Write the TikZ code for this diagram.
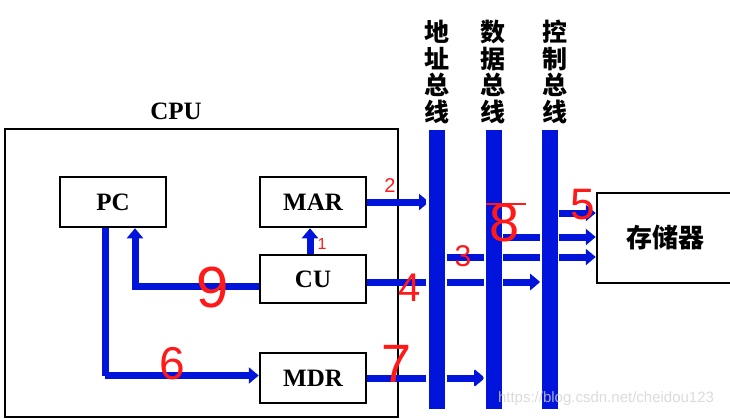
\documentclass[tikz,border=0pt]{standalone}
\usepackage{fontspec}
\setmainfont{Liberation Serif}
\newfontfamily\cjk{Noto Sans CJK SC}
\newfontfamily\hand{Liberation Sans}
\usetikzlibrary{arrows.meta,calc}
\definecolor{busblue}{RGB}{0,20,220}
\definecolor{hred}{RGB}{255,25,25}
\begin{document}
\begin{tikzpicture}[x=1pt,y=-1pt,
  reg/.style={draw,line width=2.5pt,minimum width=106pt,minimum height=50pt,inner sep=0pt,
    font=\fontsize{25}{30}\selectfont\bfseries},
  bus/.style={fill=busblue,draw=white,line width=3pt,minimum width=19pt,minimum height=282pt,inner sep=0pt,outer sep=0pt},
  arr/.style={busblue,line width=7pt,-{Triangle[length=10pt,width=16pt]}},
  ln/.style={busblue,line width=7pt},
  num/.style={text=hred,inner sep=0pt},
  buslabel/.style={align=center,font=\cjk\bfseries\fontsize{25}{26.5}\selectfont,inner sep=0pt}]
\useasboundingbox (0,0) rectangle (730,418);

% CPU frame
\node[draw,line width=2.5pt,minimum width=393pt,minimum height=288pt,inner sep=0pt] (cpu) at (201.5,273) {};
\node[font=\fontsize{25}{30}\selectfont\bfseries] (cpulabel) at (176,111) {CPU};

% registers
\node[reg] (pc)  at (113,202) {PC};
\node[reg] (mar) at (313,202) {MAR};
\node[reg,minimum height=48pt] (cu)  at (313,279) {CU};
\node[reg] (mdr) at (313,378) {MDR};

% memory
\node[draw,line width=2.5pt,minimum width=136pt,minimum height=90pt,inner sep=0pt,
  font=\cjk\bfseries\fontsize{26}{30}\selectfont] (mem) at (665,238) {存储器};

% bus labels
\node[buslabel] (alab) at (437,72) {地\\址\\总\\线};
\node[buslabel] (dlab) at (493,72) {数\\据\\总\\线};
\node[buslabel] (clab) at (555,72) {控\\制\\总\\线};

% connectors (drawn before buses)
\coordinate (b) at (0,257);
\coordinate (c) at (0,237);
\coordinate (d) at (0,213);
\draw[arr] ([xshift=-3pt]cu.north) -- ([xshift=-3pt]mar.south);
\draw[arr] (mar.east) -- (mar.east -| 429,0);
\draw[arr] ([yshift=-3pt]cu.east) -- ([yshift=-3pt]cu.east -| 540,0);
\draw[arr] (mdr.east) -- (mdr.east -| 485,0);
\draw[arr] ([yshift=-7pt]cu.west) -| ([xshift=22pt]pc.south);
\draw[ln] ([xshift=-8pt]pc.south) -- ([xshift=-8pt]pc.south |- 0,375.5);
\draw[arr] ([xshift=-8pt,yshift=0pt]pc.south |- 0,375.5) -- (mdr.west |- 0,375.5);

% buses
\node[bus] (abus) at (437,269.5) {};
\node[bus] (dbus) at (493.5,269.5) {};
\node[bus] (cbus) at (549.5,269.5) {};

% bus to memory
\draw[ln] (abus.east |- b) -- (dbus.west |- b);
\draw[ln] (dbus.east |- b) -- (cbus.west |- b);
\draw[arr] (cbus.east |- b) -- (mem.west |- b);
\draw[ln] (dbus.east |- c) -- (cbus.west |- c);
\draw[arr] (cbus.east |- c) -- (mem.west |- c);
\draw[arr] (cbus.east |- d) -- (mem.west |- d);
% CU and MDR line segments right of the address bus
\draw[ln] (abus.east |- 0,282) -- (dbus.west |- 0,282);
\draw[arr] (dbus.east |- 0,282) -- (cbus.west |- 0,282);
\draw[arr] (abus.east |- 0,378) -- (dbus.west |- 0,378);

% handwritten step numbers
\node[num,font=\hand\fontsize{20}{20}\selectfont] (n2) at (390,186) {2};
\node[num,font=\hand\fontsize{16}{16}\selectfont] (n1) at (322,244) {1};
\node[num,font=\hand\fontsize{58}{58}\selectfont] (n9) at (213,288) {9};
\node[num,font=\hand\fontsize{46}{46}\selectfont] (n6) at (172,364) {6};
\node[num,font=\hand\fontsize{54}{54}\selectfont] (n7) at (397,364) {7};
\node[num,font=\hand\fontsize{40}{40}\selectfont] (n4) at (410,288) {4};
\node[num,font=\hand\fontsize{30}{30}\selectfont] (n3) at (463,256) {3};
\node[num,font=\hand\fontsize{54}{54}\selectfont] (n8) at (505,223) {8};
\node[num,font=\hand\fontsize{44}{44}\selectfont] (n5) at (583,205) {5};
\draw[hred,line width=2pt] (n8.north west) ++(-4,0) -- ++(40,0);

% watermark
\node[text=gray!35,opacity=0.8,font=\hand\fontsize{15}{15}\selectfont,inner sep=0pt] (wm) at (606,399) {https://blog.csdn.net/cheidou123};
\end{tikzpicture}
\end{document}
